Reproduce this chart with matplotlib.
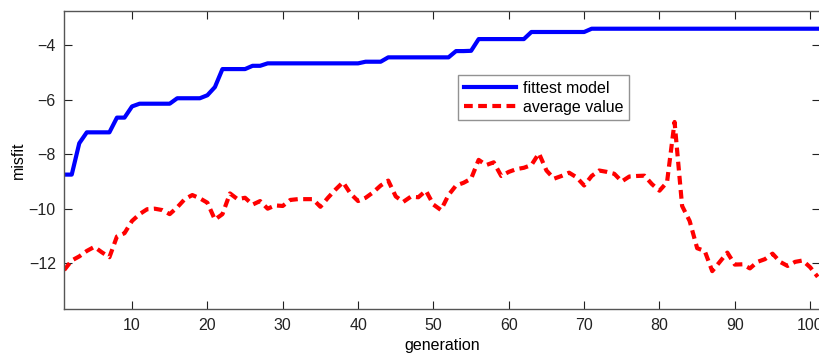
import numpy as np
import matplotlib
matplotlib.use("Agg")
import matplotlib.pyplot as plt

plt.rcParams['font.family'] = ['Liberation Sans', 'DejaVu Sans']

generation = np.arange(1, 102)

fittest = [
    -8.75, -8.75, -7.60, -7.20, -7.20, -7.20, -7.20, -6.66, -6.66, -6.25,
    -6.15, -6.15, -6.15, -6.15, -6.15, -5.95, -5.95, -5.95, -5.95, -5.84,
    -5.54, -4.88, -4.88, -4.88, -4.88, -4.76, -4.76, -4.67, -4.67, -4.67,
    -4.67, -4.67, -4.67, -4.67, -4.67, -4.67, -4.67, -4.67, -4.67, -4.67,
    -4.61, -4.61, -4.61, -4.45, -4.45, -4.45, -4.45, -4.45, -4.45, -4.45,
    -4.45, -4.45, -4.22, -4.22, -4.21, -3.78, -3.78, -3.78, -3.78, -3.78,
    -3.78, -3.78, -3.52, -3.52, -3.52, -3.52, -3.52, -3.52, -3.52, -3.52,
    -3.40, -3.40, -3.40, -3.40, -3.40, -3.40, -3.40, -3.40, -3.40, -3.40,
    -3.40, -3.40, -3.40, -3.40, -3.40, -3.40, -3.40, -3.40, -3.40, -3.40,
    -3.40, -3.40, -3.40, -3.40, -3.40, -3.40, -3.40, -3.40, -3.40, -3.40,
    -3.40,
]

average = [
    -12.25, -11.90, -11.75, -11.55, -11.40, -11.60, -11.78, -11.02, -10.90, -10.45,
    -10.20, -10.02, -10.00, -10.05, -10.20, -9.95, -9.65, -9.50, -9.62, -9.78,
    -10.40, -10.20, -9.44, -9.65, -9.60, -9.85, -9.72, -10.00, -9.88, -9.90,
    -9.68, -9.65, -9.65, -9.65, -9.93, -9.60, -9.30, -9.03, -9.45, -9.72,
    -9.60, -9.40, -9.15, -8.97, -9.55, -9.75, -9.56, -9.58, -9.34, -9.85,
    -10.05, -9.50, -9.15, -9.05, -8.90, -8.21, -8.40, -8.30, -8.80, -8.65,
    -8.55, -8.50, -8.40, -7.97, -8.60, -8.90, -8.80, -8.68, -8.85, -9.15,
    -8.80, -8.60, -8.65, -8.72, -9.00, -8.82, -8.80, -8.79, -9.10, -9.34,
    -9.03, -6.82, -9.90, -10.45, -11.45, -11.55, -12.29, -11.95, -11.61, -12.05,
    -12.04, -12.19, -11.95, -11.85, -11.65, -11.95, -12.10, -11.95, -11.90, -12.15,
    -12.50,
]

xticks = [10, 20, 30, 40, 50, 60, 70, 80, 90, 100]
yticks = [-12, -10, -8, -6, -4]

fig = plt.figure(figsize=(8.19, 3.53), dpi=100)
ax = fig.add_axes([64.2 / 819, 43.7 / 353, (820 - 64.2) / 819, (309.3 - 11) / 353])

ax.plot(generation, fittest, color='#0000ff', lw=3.0, label='fittest model',
        solid_joinstyle='round')
ax.plot(generation, average, color='#ff0000', lw=3.0, label='average value',
        dashes=(2.1, 1.3), dash_capstyle='butt')

ax.set_xlim(1, 101.3)
ax.set_ylim(-13.69, -2.75)
ax.set_xticks(xticks)
ax.set_yticks(yticks)
ax.tick_params(direction='in', length=6, width=0.8, top=True, right=True,
               labelsize=11.5, colors='#222222', pad=6)
for s in ax.spines.values():
    s.set_color('#555555')
    s.set_linewidth(1.0)

ax.set_xlabel('generation', fontsize=11.5, labelpad=4)
ax.set_ylabel('misfit', fontsize=11.5, labelpad=2)

leg = ax.legend(loc='upper left', bbox_to_anchor=(458 / 819, 1 - 75 / 353),
                bbox_transform=fig.transFigure, fontsize=11.5, frameon=True,
                fancybox=False, handlelength=3.3, handletextpad=0.4,
                borderpad=0.35, labelspacing=0.25, borderaxespad=0)
leg.get_frame().set_edgecolor('#777777')
leg.get_frame().set_linewidth(1.0)

fig.savefig('out.png', dpi=100)
